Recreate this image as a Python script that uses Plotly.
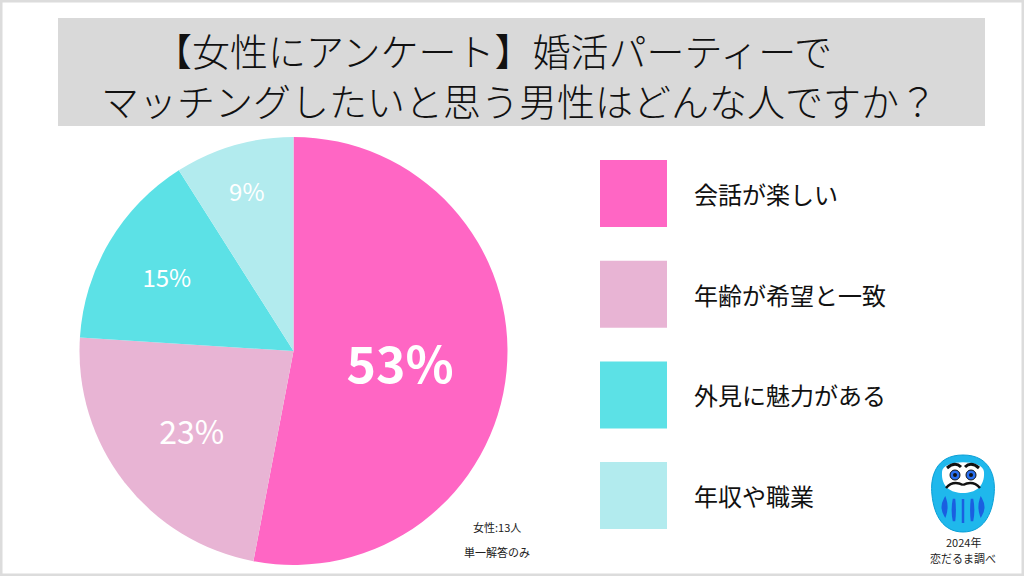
import plotly.graph_objects as go

# ---- data ----
categories = ["会話が楽しい", "年齢が希望と一致", "外見に魅力がある", "年収や職業"]
values = [53, 23, 15, 9]
colors = ["#ff66c4", "#e8b4d4", "#5ce1e6", "#b2ebee"]
label_sizes = [50, 32, 24, 24]
label_bold = [True, False, False, False]
title_lines = ["【女性にアンケート】婚活パーティーで", "マッチングしたいと思う男性はどんな人ですか？"]
notes = ["女性:13人", "単一解答のみ"]
credit = ["2024年", "恋だるま調べ"]

FONT = "Noto Sans CJK JP"
W, H = 1024, 576

fig = go.Figure()

fig.add_trace(go.Pie(
    labels=categories,
    values=values,
    sort=False,
    direction="clockwise",
    rotation=0,
    marker=dict(colors=colors, line=dict(width=0)),
    texttemplate=[("<b>%{percent:.0%}</b>" if b else "%{percent:.0%}") for b in label_bold],
    textposition="inside",
    insidetextorientation="horizontal",
    insidetextfont=dict(color="white", size=label_sizes, family=FONT),
    showlegend=False,
    hoverinfo="label+percent",
    domain=dict(x=[79 / W, 508 / W], y=[11 / H, 439 / H]),
))

shapes = []
annotations = []

# outer border
shapes.append(dict(type="rect", xref="x", yref="y", x0=1, y0=1, x1=W - 1, y1=H - 1,
                   line=dict(color="#dcdcdc", width=3), fillcolor="rgba(0,0,0,0)", layer="below"))
# title box
shapes.append(dict(type="rect", xref="x", yref="y", x0=58, y0=18, x1=985, y1=126,
                   line=dict(width=0), fillcolor="#d9d9d9", layer="below"))
annotations.append(dict(xref="x", yref="y", x=493, y=49, text=title_lines[0], showarrow=False,
                        font=dict(family=FONT, size=38, color="#111111", weight=300),
                        xanchor="center", yanchor="middle"))
annotations.append(dict(xref="x", yref="y", x=519, y=99, text=title_lines[1], showarrow=False,
                        font=dict(family=FONT, size=38, color="#111111", weight=300),
                        xanchor="center", yanchor="middle"))

# legend
for i, (cat, col) in enumerate(zip(categories, colors)):
    y0 = 160 + i * 100.7
    shapes.append(dict(type="rect", xref="x", yref="y", x0=600, y0=y0, x1=667, y1=y0 + 67,
                       line=dict(width=0), fillcolor=col))
    annotations.append(dict(xref="x", yref="y", x=692, y=y0 + 33.5, text=cat, showarrow=False,
                            font=dict(family=FONT, size=24, color="#111111"),
                            xanchor="left", yanchor="middle"))

# notes
annotations.append(dict(xref="x", yref="y", x=497, y=527, text=notes[0], showarrow=False,
                        font=dict(family=FONT, size=11, color="#222222"), xanchor="center", yanchor="middle"))
annotations.append(dict(xref="x", yref="y", x=497, y=552, text=notes[1], showarrow=False,
                        font=dict(family=FONT, size=11, color="#222222"), xanchor="center", yanchor="middle"))

# daruma icon (decorative)
cx = 963
shapes.append(dict(type="path", xref="x", yref="y",
                   path=f"M {cx},455 C {cx+28},455 {cx+33},478 {cx+31},495 C {cx+29},515 {cx+20},532 {cx},532 "
                        f"C {cx-20},532 {cx-29},515 {cx-31},495 C {cx-33},478 {cx-28},455 {cx},455 Z",
                   fillcolor="#1fb8ec", line=dict(color="#0a9fd6", width=1)))
shapes.append(dict(type="path", xref="x", yref="y",
                   path=f"M {cx-21},472 C {cx-21},459 {cx+21},459 {cx+21},472 C {cx+22},487 {cx+12},493 {cx},493 "
                        f"C {cx-12},493 {cx-22},487 {cx-21},472 Z",
                   fillcolor="white", line=dict(width=0)))
for dx in (-8, 8):
    shapes.append(dict(type="circle", xref="x", yref="y", x0=cx + dx - 5, y0=470, x1=cx + dx + 5, y1=480,
                       fillcolor="#2a6ff0", line=dict(color="#111", width=1)))
    shapes.append(dict(type="circle", xref="x", yref="y", x0=cx + dx - 2, y0=473, x1=cx + dx + 2, y1=477,
                       fillcolor="#111", line=dict(width=0)))
    sgn = 1 if dx > 0 else -1
    shapes.append(dict(type="path", xref="x", yref="y",
                       path=f"M {cx+dx-6*sgn},467 Q {cx+dx},461 {cx+dx+8*sgn},468",
                       line=dict(color="#111", width=3)))
    shapes.append(dict(type="path", xref="x", yref="y",
                       path=f"M {cx},485 Q {cx+10*sgn},480 {cx+17*sgn},488",
                       line=dict(color="#111", width=2.5)))
for dx, hgt in [(-18, 16), (-9, 22), (0, 24), (9, 22), (18, 16)]:
    shapes.append(dict(type="path", xref="x", yref="y",
                       path=f"M {cx+dx},{499} Q {cx+dx*1.25},{499+hgt/2} {cx+dx},{499+hgt} Q {cx+dx*0.85},{499+hgt/2} {cx+dx},{499} Z",
                       fillcolor="#1a5fe0", line=dict(color="#1a5fe0", width=2.5)))
annotations.append(dict(xref="x", yref="y", x=cx, y=542, text=credit[0], showarrow=False,
                        font=dict(family=FONT, size=11, color="#222222"), xanchor="center", yanchor="middle"))
annotations.append(dict(xref="x", yref="y", x=cx, y=558, text=credit[1], showarrow=False,
                        font=dict(family=FONT, size=11, color="#222222"), xanchor="center", yanchor="middle"))

fig.update_layout(
    width=W, height=H,
    margin=dict(l=0, r=0, t=0, b=0),
    paper_bgcolor="white", plot_bgcolor="rgba(0,0,0,0)",
    xaxis=dict(range=[0, W], visible=False, fixedrange=True, domain=[0, 1]),
    yaxis=dict(range=[H, 0], visible=False, fixedrange=True, domain=[0, 1]),
    shapes=shapes, annotations=annotations,
    font=dict(family=FONT),
)

fig.write_html("out.html")
